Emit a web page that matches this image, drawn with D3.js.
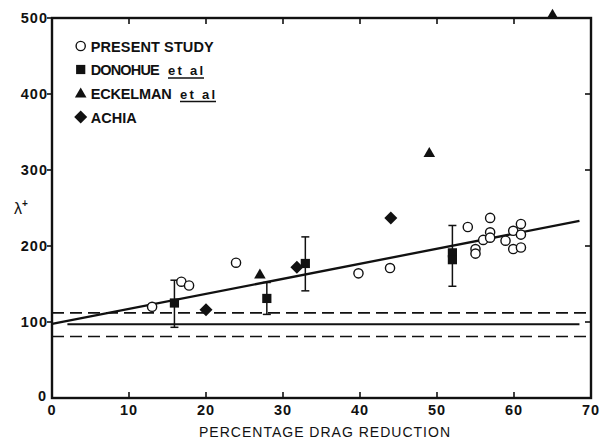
<!DOCTYPE html>
<html><head><meta charset="utf-8">
<script src="https://cdn.jsdelivr.net/npm/d3@7"></script>
<style>
html,body{margin:0;padding:0;background:#fff;}
text{font-family:"Liberation Sans",Arial,sans-serif;fill:#111;}
</style></head>
<body>
<svg id="c" width="606" height="439"></svg>
<script>
// ---- data ----
const xTicks = [0,10,20,30,40,50,60,70];
const yTicks = [0,100,200,300,400,500];

const presentX = [13,16.8,17.8,23.9,39.8,43.9,54,55,55,56,56.9,56.9,56.9,58.9,59.9,59.9,60.9,60.9,60.9];
const presentY = [120,153,148,178,164,171,225,196,190,208,237,218,211,207,220,196,229,215,198];

const donohueX = [15.9,27.9,32.9,52,52];
const donohueY = [125,131,177,191,182];

const errX    = [15.9,27.9,32.9,52];
const errLow  = [93,110,141,147];
const errHigh = [155,152,212,227];

const eckelmanX = [27,49,65];
const eckelmanY = [163,323,505];

const achiaX = [20,31.8,44];
const achiaY = [116,172,237];

const fitX = [0,68.5];
const fitY = [97.5,233];

const baseX = [2,68.5];
const baseY = [97,97];

const dashUpper = 112;
const dashLower = 81;

const legendLabels = ["PRESENT STUDY","DONOHUE","ECKELMAN","ACHIA"];
const legendEtAl = [false,true,true,false];

// ---- layout ----
const svg = d3.select("#c");
const x = d3.scaleLinear().domain([0,70]).range([52,591]);
const y = d3.scaleLinear().domain([0,500]).range([398,18]);

// shapes
const circ = (g,cx,cy)=>g.append("circle").attr("cx",cx).attr("cy",cy).attr("r",4.6)
  .attr("fill","#fff").attr("stroke","#111").attr("stroke-width",1.4);
const sq = (g,cx,cy)=>g.append("rect").attr("x",cx-4.6).attr("y",cy-4.6).attr("width",9.2).attr("height",9.2).attr("fill","#111");
const tri = (g,cx,cy)=>g.append("path").attr("d",`M${cx},${cy-5.5}L${cx+5.8},${cy+4.5}L${cx-5.8},${cy+4.5}Z`).attr("fill","#111");
const dia = (g,cx,cy)=>g.append("path").attr("d",`M${cx},${cy-6.5}L${cx+6.5},${cy}L${cx},${cy+6.5}L${cx-6.5},${cy}Z`).attr("fill","#111");

// dashed lines
[dashUpper,dashLower].forEach(v=>{
  svg.append("line").attr("x1",x(0)).attr("x2",x(70)).attr("y1",y(v)).attr("y2",y(v))
    .attr("stroke","#111").attr("stroke-width",1.6).attr("stroke-dasharray","12,6");
});
// baseline solid
svg.append("line").attr("x1",x(baseX[0])).attr("x2",x(baseX[1])).attr("y1",y(baseY[0])).attr("y2",y(baseY[1]))
  .attr("stroke","#111").attr("stroke-width",2);
// fit line
svg.append("line").attr("x1",x(fitX[0])).attr("x2",x(fitX[1])).attr("y1",y(fitY[0])).attr("y2",y(fitY[1]))
  .attr("stroke","#111").attr("stroke-width",2.3);

// error bars
const eb = svg.append("g").attr("stroke","#111").attr("stroke-width",1.5);
errX.forEach((v,i)=>{
  const cx = x(v);
  eb.append("line").attr("x1",cx).attr("x2",cx).attr("y1",y(errLow[i])).attr("y2",y(errHigh[i]));
  eb.append("line").attr("x1",cx-4).attr("x2",cx+4).attr("y1",y(errLow[i])).attr("y2",y(errLow[i]));
  eb.append("line").attr("x1",cx-4).attr("x2",cx+4).attr("y1",y(errHigh[i])).attr("y2",y(errHigh[i]));
});

// points
const pts = svg.append("g");
presentX.forEach((v,i)=>circ(pts,x(v),y(presentY[i])));
donohueX.forEach((v,i)=>sq(pts,x(v),y(donohueY[i])));
eckelmanX.forEach((v,i)=>tri(pts,x(v),y(eckelmanY[i])));
achiaX.forEach((v,i)=>dia(pts,x(v),y(achiaY[i])));

// frame
const fr = svg.append("g").attr("stroke","#111").attr("stroke-width",2.4).attr("fill","none");
fr.append("rect").attr("x",x(0)).attr("y",y(500)).attr("width",x(70)-x(0)).attr("height",y(0)-y(500));

// ticks
const tk = svg.append("g").attr("stroke","#111").attr("stroke-width",1.6);
xTicks.filter(t=>t>0&&t<70).forEach(t=>{
  tk.append("line").attr("x1",x(t)).attr("x2",x(t)).attr("y1",y(0)).attr("y2",y(0)-6);
  tk.append("line").attr("x1",x(t)).attr("x2",x(t)).attr("y1",y(500)).attr("y2",y(500)+6);
});
yTicks.filter(t=>t>0).forEach(t=>{
  tk.append("line").attr("x1",x(0)-5).attr("x2",x(0)).attr("y1",y(t)).attr("y2",y(t));
  if(t<500) tk.append("line").attr("x1",x(70)-6).attr("x2",x(70)).attr("y1",y(t)).attr("y2",y(t));
});

// tick labels
const tl = svg.append("g").attr("font-size",14.5).attr("font-weight","bold");
xTicks.forEach(t=>{
  tl.append("text").attr("x",x(t)).attr("y",y(0)+17).attr("text-anchor","middle")
    .attr("letter-spacing",1).text(t);
});
yTicks.forEach(t=>{
  tl.append("text").attr("x",x(0)-(t===0?5:4)).attr("y",y(t)+(t===0?3:5)).attr("text-anchor","end")
    .attr("letter-spacing",1).text(t);
});

// axis titles
svg.append("text").attr("x",199).attr("y",437).attr("font-size",14)
  .attr("textLength",251).attr("lengthAdjust","spacing").text("PERCENTAGE  DRAG REDUCTION");
const yl = svg.append("text").attr("x",14).attr("y",214).attr("font-size",16);
yl.append("tspan").text("λ");
yl.append("tspan").attr("dy",-7).attr("font-size",10).attr("font-weight","bold").text("+");

// legend
const lg = svg.append("g");
const rowY = [46,69.5,93,117];
const lblLen = [123,69,81,46];
const etX = [0,168,180,0];
const markers = [circ,sq,tri,dia];
legendLabels.forEach((lab,i)=>{
  markers[i](lg,80.7,rowY[i]);
  lg.append("text").attr("x",90.7).attr("y",rowY[i]+5.5).attr("font-size",14.5).attr("font-weight","bold")
    .attr("textLength",lblLen[i]).attr("lengthAdjust","spacing").text(lab);
  if(legendEtAl[i]){
    lg.append("text").attr("x",etX[i]).attr("y",rowY[i]+5.5).attr("font-size",13).attr("font-weight","bold")
      .attr("textLength",35).attr("lengthAdjust","spacing").text("et al");
    lg.append("line").attr("x1",etX[i]).attr("x2",etX[i]+36).attr("y1",rowY[i]+8.5).attr("y2",rowY[i]+8.5)
      .attr("stroke","#111").attr("stroke-width",1.4);
  }
});
</script>
</body></html>
